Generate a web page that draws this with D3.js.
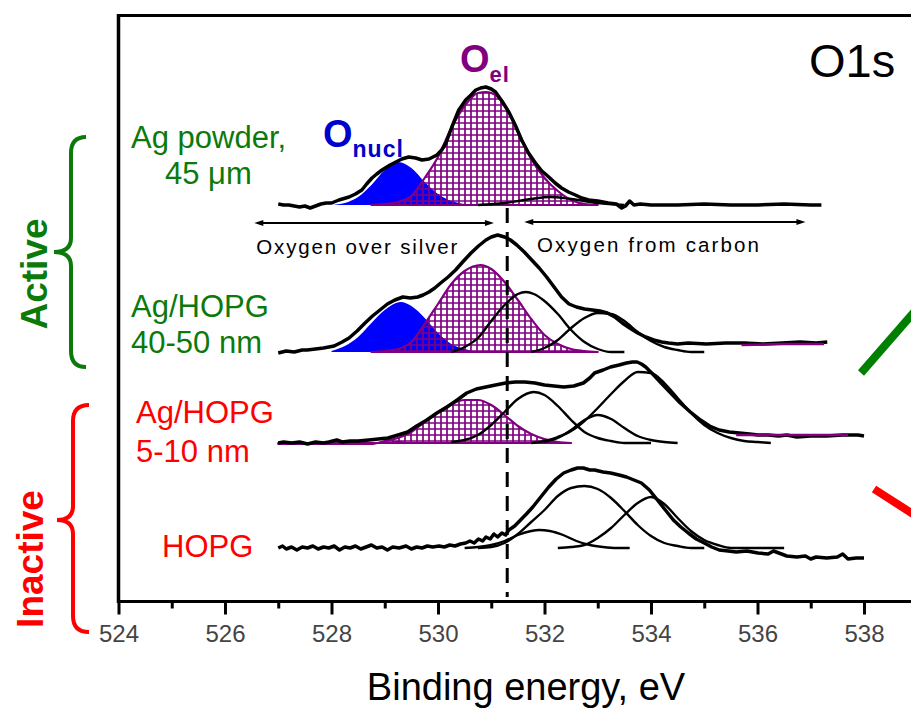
<!DOCTYPE html>
<html>
<head>
<meta charset="utf-8">
<script src="https://cdn.jsdelivr.net/npm/d3@7"></script>
<style>
  body { margin: 0; background: #fff; }
  svg { display: block; }
  text { font-family: "Liberation Sans", Arial, sans-serif; }
</style>
</head>
<body>
<svg id="chart" width="911" height="710"></svg>
<script>
// ---- O1s XPS spectra: binding energy (eV) vs intensity (a.u., stacked) ----
const majorTicks = [524, 526, 528, 530, 532, 534, 536, 538];
const minorTicks = [525, 527, 529, 531, 533, 535, 537];
const referenceEnergy = 531.3;              // dashed separator between O species
const spectrumOffsets = [39.7, 25.0, 15.9, 5.4]; // stacking offsets (a.u.)

// Ag powder, 45 µm
const powderTotal = [[527.0,.1],[527.1,0],[527.2,0],[527.3,-.1],[527.4,-.2],[527.5,-.1],[527.6,-.3],[527.7,-.1],[527.8,.1],[527.9,.2],[528.0,.2],[528.14,.5],[528.33,.8],[528.45,1.1],[528.57,1.5],[528.66,2.1],[528.76,2.7],[528.85,3.1],[528.95,3.5],[529.1,4.0],[529.21,4.3],[529.32,4.6],[529.45,4.8],[529.58,4.7],[529.7,4.5],[529.83,4.6],[529.98,5.0],[530.07,5.5],[530.15,6.2],[530.26,7.8],[530.39,9.5],[530.52,10.5],[530.62,11.0],[530.71,11.5],[530.8,11.7],[530.9,11.8],[531.0,11.6],[531.08,11.3],[531.2,10.4],[531.33,9.3],[531.45,8.0],[531.57,6.5],[531.7,5.2],[531.83,4.2],[531.95,3.4],[532.08,2.8],[532.2,2.2],[532.32,1.7],[532.45,1.3],[532.58,1.0],[532.7,.7],[532.83,.5],[533.0,.4],[533.2,.2],[533.35,.1],[533.45,-.3],[533.52,-.1],[533.6,.4],[533.68,0],[533.8,.1],[534.0,0],[534.5,0],[535.0,.1],[535.5,0],[536.0,0],[536.5,.1],[537.0,0],[537.2,0]];
const powderNucl = [[528.0,0],[528.25,.2],[528.5,.8],[528.75,2.0],[529.0,3.5],[529.25,4.3],[529.5,3.7],[529.75,2.3],[530.0,1.1],[530.25,.4],[530.5,.1],[530.75,0]];
const powderEl = [[528.75,0],[529.0,.1],[529.25,.3],[529.5,.9],[529.75,2.7],[530.0,4.8],[530.25,7.7],[530.5,9.9],[530.75,11.2],[530.9,11.3],[531.0,11.2],[531.25,10.0],[531.5,7.4],[531.75,4.6],[532.0,2.7],[532.25,1.4],[532.5,.5],[532.75,.1],[533.0,0]];
const powderC1 = [[530.75,0],[531.25,.2],[531.75,.6],[532.1,.8],[532.5,.6],[533.0,.2],[533.5,0]];

// Ag/HOPG, 40-50 nm
const thickTotal = [[527.0,-.1],[527.15,.1],[527.3,0],[527.45,.2],[527.54,.2],[527.7,.3],[527.85,.4],[528.05,.6],[528.2,1.0],[528.33,1.4],[528.48,2.1],[528.63,2.9],[528.77,3.6],[528.91,4.2],[529.05,4.8],[529.19,5.2],[529.34,5.5],[529.48,5.4],[529.62,5.5],[529.72,5.7],[529.83,6.0],[529.94,6.4],[530.05,6.9],[530.19,7.5],[530.33,8.2],[530.48,9.1],[530.62,9.9],[530.76,10.6],[530.9,11.2],[531.0,11.5],[531.12,11.7],[531.25,11.5],[531.36,11.2],[531.48,10.7],[531.62,10.0],[531.76,9.2],[531.9,8.4],[532.04,7.5],[532.18,6.5],[532.32,5.5],[532.46,4.8],[532.6,4.5],[532.75,4.3],[532.9,4.2],[533.04,4.1],[533.18,3.9],[533.32,3.5],[533.46,2.9],[533.6,2.4],[533.75,1.9],[533.9,1.5],[534.05,1.2],[534.2,1.0],[534.33,.9],[534.5,.8],[534.7,.9],[535.04,.8],[535.4,.9],[535.75,.9],[536.1,.8],[536.46,.9],[536.8,1.0],[537.1,.9],[537.31,1.0]];
const thickNucl = [[528.0,.1],[528.25,.6],[528.5,1.5],[528.75,2.9],[529.0,4.2],[529.3,5.0],[529.5,4.6],[529.75,3.4],[530.0,1.9],[530.25,.8],[530.5,.3],[530.75,0]];
const thickEl = [[528.75,0],[529.0,.1],[529.25,.3],[529.5,1.0],[529.75,2.8],[530.0,4.8],[530.25,6.8],[530.5,8.1],[530.8,8.7],[531.0,8.3],[531.25,7.0],[531.5,5.2],[531.75,3.3],[532.0,1.7],[532.25,.8],[532.5,.3],[532.75,.1],[533.0,0]];
const thickElTail = [[535.7,.7],[536.5,.8],[537.25,.8]];
const thickC1 = [[530.25,0],[530.5,.5],[530.75,1.4],[531.0,3.1],[531.25,4.7],[531.5,5.8],[531.65,6.0],[531.8,5.8],[532.0,5.1],[532.25,3.8],[532.5,2.2],[532.75,1.0],[533.0,.3],[533.25,0],[533.5,0]];
const thickC2 = [[531.75,0],[532.0,.4],[532.25,1.2],[532.5,2.4],[532.75,3.4],[533.0,3.9],[533.25,3.8],[533.5,3.1],[533.75,2.0],[534.0,1.1],[534.25,.5],[534.5,.2],[534.75,0],[535.0,0]];

// Ag/HOPG, 5-10 nm
const thinTotal = [[527.0,0],[527.1,.1],[527.25,0],[527.4,.1],[527.55,-.1],[527.7,.1],[527.85,0],[527.95,.1],[528.1,.3],[528.2,.1],[528.35,.2],[528.5,.2],[528.7,.3],[528.88,.4],[529.06,.5],[529.25,.8],[529.43,1.1],[529.6,1.7],[529.79,2.3],[529.98,3.0],[530.17,3.6],[530.36,4.3],[530.54,5.0],[530.72,5.4],[530.9,5.6],[531.08,5.8],[531.27,6.0],[531.45,6.1],[531.63,6.1],[531.82,6.0],[532.0,5.8],[532.18,5.7],[532.36,5.6],[532.55,5.7],[532.73,6.0],[532.85,6.5],[532.94,7.0],[533.1,7.3],[533.24,7.6],[533.4,7.8],[533.54,8.0],[533.65,8.1],[533.74,8.1],[533.82,7.9],[533.9,7.6],[534.05,6.8],[534.19,6.0],[534.37,5.0],[534.55,4.0],[534.74,3.1],[534.93,2.3],[535.1,1.7],[535.28,1.3],[535.47,1.1],[535.66,1.0],[535.85,.9],[536.01,.8],[536.2,.8],[536.4,.7],[536.55,.8],[536.74,.6],[537.0,.7],[537.3,.7],[537.6,.8],[537.89,.8],[538.0,.7]];
const thinNucl = [[528.9,0],[529.1,.1],[529.25,.2],[529.4,.1],[529.6,0]];
const thinEl = [[527.0,-.1],[528.75,-.1],[529.0,.2],[529.25,.5],[529.5,1.1],[529.75,2.1],[530.0,3.1],[530.25,3.9],[530.5,4.3],[530.75,4.3],[531.0,3.8],[531.25,2.8],[531.5,1.7],[531.75,.9],[532.0,.4],[532.25,.1],[532.5,0]];
const thinElTail = [[535.6,.8],[536.5,.8],[537.7,.8]];
const thinC1 = [[530.25,.1],[530.5,.3],[530.75,.8],[531.0,1.8],[531.25,3.1],[531.5,4.4],[531.8,5.1],[532.0,4.8],[532.25,3.7],[532.5,2.3],[532.75,1.1],[533.0,.5],[533.25,.2],[533.5,0],[534.0,0]];
const thinC2 = [[532.0,.1],[532.25,.5],[532.5,1.3],[532.75,2.3],[533.0,2.8],[533.25,2.4],[533.5,1.5],[533.75,.7],[534.0,.3],[534.25,.1],[534.5,0]];
const thinC3 = [[531.75,0],[532.0,.2],[532.25,.6],[532.5,1.2],[532.75,2.2],[533.0,3.5],[533.25,4.9],[533.5,6.2],[533.75,7.1],[534.0,7.0],[534.25,6.0],[534.5,4.5],[534.75,3.0],[535.0,1.8],[535.25,1.0],[535.5,.5],[535.75,.2],[536.0,.1],[536.25,0]];

// HOPG
const hopgTotal = [[527.0,0],[527.08,.2],[527.15,-.1],[527.25,.1],[527.35,-.2],[527.45,.1],[527.55,0],[527.65,.2],[527.75,-.1],[527.85,.1],[527.95,0],[528.05,.2],[528.15,-.2],[528.25,.1],[528.35,0],[528.45,.2],[528.55,-.1],[528.65,.1],[528.75,.3],[528.85,0],[528.95,.1],[529.05,-.2],[529.15,.1],[529.27,0],[529.4,.2],[529.5,-.1],[529.6,.1],[529.7,0],[529.8,.2],[529.9,.1],[530.02,.2],[530.12,.1],[530.22,.3],[530.32,.2],[530.42,.4],[530.52,.5],[530.6,.7],[530.68,.5],[530.76,.9],[530.84,.7],[530.9,1.1],[530.98,.9],[531.05,1.4],[531.12,1.1],[531.2,1.5],[531.27,1.3],[531.33,1.8],[531.44,2.2],[531.55,2.8],[531.66,3.4],[531.78,4.1],[531.93,5.1],[532.08,6.1],[532.22,6.9],[532.36,7.5],[532.5,7.8],[532.62,8.0],[532.73,8.0],[532.85,7.8],[532.94,7.8],[533.1,7.6],[533.24,7.5],[533.4,7.3],[533.54,7.1],[533.68,6.8],[533.82,6.5],[533.97,5.8],[534.12,4.8],[534.27,3.8],[534.42,2.8],[534.56,2.1],[534.7,1.5],[534.85,.9],[535.0,.5],[535.14,.1],[535.28,-.2],[535.45,-.3],[535.6,-.4],[535.8,-.3],[536.01,-.5],[536.2,-.6],[536.3,-.3],[536.4,-.5],[536.55,-.8],[536.74,-.9],[536.9,-.8],[537.0,-1.1],[537.1,-.9],[537.3,-1.0],[537.5,-.9],[537.6,-.6],[537.7,-1.1],[537.85,-1.0],[538.0,-1.0]];
const hopgC1 = [[530.5,0],[530.75,.1],[531.0,.3],[531.25,.7],[531.5,1.3],[531.75,1.7],[531.9,1.8],[532.1,1.7],[532.35,1.3],[532.6,.7],[532.85,.3],[533.1,.1],[533.35,0],[533.6,0]];
const hopgC2 = [[530.75,0],[531.0,.1],[531.25,.5],[531.5,1.4],[531.75,2.6],[532.0,3.8],[532.25,5.2],[532.5,6.0],[532.75,6.2],[533.0,5.9],[533.25,5.0],[533.5,3.7],[533.75,2.3],[534.0,1.2],[534.25,.5],[534.5,.2],[534.75,0],[535.0,0]];
const hopgC3 = [[532.25,0],[532.5,.1],[532.75,.3],[533.0,1.0],[533.25,2.0],[533.5,3.3],[533.75,4.5],[534.0,5.1],[534.25,4.4],[534.5,3.0],[534.75,1.7],[535.0,.8],[535.25,.3],[535.5,0],[536.5,0]];

// region arrows (start eV, end eV, height a.u.)
const silverArrow = [526.55, 531.05, 37.9];
const carbonArrow = [531.62, 536.9, 38.0];

// ---------------------------------------------------------------------------
const svg = d3.select("#chart");
const x = d3.scaleLinear().domain([524, 538]).range([118.5, 864]);
const y = d3.scaleLinear().domain([0, 58.7]).range([602, 15]);

const GREEN = "#0b7a0b", RED = "#ff0000", PURPLE = "#800080", BLUE = "#0000ff";

// cross-hatch used for the O_el component
const defs = svg.append("defs");
const pat = defs.append("pattern").attr("id", "hatch")
  .attr("patternUnits", "userSpaceOnUse").attr("width", 6).attr("height", 6);
pat.append("path").attr("d", "M3,0V6M0,3H6")
  .attr("stroke", PURPLE).attr("stroke-width", 1.7).attr("fill", "none");

const lineAt = (off, curve) => d3.line().x(d => x(d[0])).y(d => y(off + d[1])).curve(curve);
const areaAt = off => d3.area().x(d => x(d[0])).y0(y(off)).y1(d => y(off + d[1])).curve(d3.curveMonotoneX);

const spectra = [
  { total: powderTotal, nucl: powderNucl, el: powderEl, comps: [powderC1] },
  { total: thickTotal, nucl: thickNucl, el: thickEl, elTail: thickElTail, comps: [thickC1, thickC2] },
  { total: thinTotal, nucl: thinNucl, el: thinEl, elTail: thinElTail, comps: [thinC1, thinC2, thinC3] },
  { total: hopgTotal, comps: [hopgC1, hopgC2, hopgC3] }
];

const plot = svg.append("g");
spectra.forEach((s, i) => {
  const off = spectrumOffsets[i];
  const g = plot.append("g");
  if (s.nucl) g.append("path").datum(s.nucl).attr("d", areaAt(off)).attr("fill", BLUE);
  if (s.el) g.append("path").datum(s.el).attr("d", areaAt(off))
    .attr("fill", "url(#hatch)").attr("stroke", PURPLE).attr("stroke-width", 2.2).attr("stroke-linejoin", "round");
  s.comps.forEach(c => g.append("path").datum(c).attr("d", lineAt(off, d3.curveMonotoneX)(c))
    .attr("fill", "none").attr("stroke", "#000").attr("stroke-width", 2.4));
  g.append("path").datum(s.total).attr("d", lineAt(off, d3.curveLinear))
    .attr("fill", "none").attr("stroke", "#000").attr("stroke-width", 3.5).attr("stroke-linejoin", "round");
  if (s.elTail) g.append("path").datum(s.elTail).attr("d", lineAt(off, d3.curveLinear))
    .attr("fill", "none").attr("stroke", PURPLE).attr("stroke-width", 2.5);
});

// dashed reference line
plot.append("line")
  .attr("x1", x(referenceEnergy)).attr("x2", x(referenceEnergy))
  .attr("y1", y(spectrumOffsets[0] - 0.3)).attr("y2", y(0.5))
  .attr("stroke", "#000").attr("stroke-width", 3).attr("stroke-dasharray", "15,9");

// arrows
const arrowHead = (xTip, yy, dir) => {
  const l = 9, h = 3;
  return `M${xTip},${yy}L${xTip - dir * l},${yy - h}L${xTip - dir * l},${yy + h}Z`;
};
[silverArrow, carbonArrow].forEach(a => {
  const x0 = x(a[0]), x1 = x(a[1]), yy = y(a[2]);
  plot.append("line").attr("x1", x0 + 4).attr("x2", x1 - 4).attr("y1", yy).attr("y2", yy)
    .attr("stroke", "#000").attr("stroke-width", 2.2);
  plot.append("path").attr("d", arrowHead(x0, yy, -1)).attr("fill", "#000");
  plot.append("path").attr("d", arrowHead(x1, yy, 1)).attr("fill", "#000");
});
plot.append("text").attr("x", x(silverArrow[0]) + 2).attr("y", 254)
  .attr("font-size", 20.5).attr("textLength", 201).attr("lengthAdjust", "spacing")
  .text("Oxygen over silver");
plot.append("text").attr("x", 537).attr("y", 252)
  .attr("font-size", 20.5).attr("textLength", 222).attr("lengthAdjust", "spacing")
  .text("Oxygen from carbon");

// frame and axis
svg.append("line").attr("x1", x(524)).attr("x2", x(524)).attr("y1", 14).attr("y2", 603)
  .attr("stroke", "#000").attr("stroke-width", 3.5);
svg.append("line").attr("x1", x(524) - 1.5).attr("x2", 911).attr("y1", 15.5).attr("y2", 15.5)
  .attr("stroke", "#000").attr("stroke-width", 3.2);
svg.append("line").attr("x1", x(524) - 1.5).attr("x2", 911).attr("y1", 601.5).attr("y2", 601.5)
  .attr("stroke", "#000").attr("stroke-width", 3.2);

const axisMajor = d3.axisBottom(x).tickValues(majorTicks).tickSize(13).tickPadding(10)
  .tickSizeOuter(0).tickFormat(d3.format("d"));
const axisMinor = d3.axisBottom(x).tickValues(minorTicks).tickSize(7).tickFormat("").tickSizeOuter(0);
const gMaj = svg.append("g").attr("transform", "translate(0,601.5)").call(axisMajor);
const gMin = svg.append("g").attr("transform", "translate(0,601.5)").call(axisMinor);
[gMaj, gMin].forEach(g => {
  g.select(".domain").remove();
  g.selectAll(".tick line").attr("stroke", "#000").attr("stroke-width", 3);
});
gMaj.selectAll(".tick text").attr("font-family", "'DejaVu Sans', sans-serif")
  .attr("font-size", 24).attr("fill", "#444");

svg.append("text").attr("x", 526).attr("y", 700).attr("text-anchor", "middle")
  .attr("font-size", 38).text("Binding energy, eV");

svg.append("text").attr("x", 809).attr("y", 77).attr("font-size", 47).text("O1s");

// component labels
const nucl = svg.append("text").attr("x", 323).attr("y", 147).attr("fill", "#0000cc").attr("font-weight", "bold");
nucl.append("tspan").attr("font-size", 38).text("O");
nucl.append("tspan").attr("font-size", 23).attr("dy", 10).attr("letter-spacing", 1).text("nucl");
const el = svg.append("text").attr("x", 460).attr("y", 72).attr("fill", PURPLE).attr("font-weight", "bold");
el.append("tspan").attr("font-size", 38).text("O");
el.append("tspan").attr("font-size", 22).attr("dy", 10).attr("letter-spacing", 1).text("el");

// sample labels
const sampleLabels = [
  { t: "Ag powder,", x: 131, y: 148, c: GREEN },
  { t: "45 \u03bcm", x: 165, y: 184, c: GREEN },
  { t: "Ag/HOPG", x: 131, y: 317, c: GREEN },
  { t: "40-50 nm", x: 131, y: 353, c: GREEN },
  { t: "Ag/HOPG", x: 136, y: 423, c: RED },
  { t: "5-10 nm", x: 136, y: 462, c: RED },
  { t: "HOPG", x: 162, y: 557, c: RED }
];
sampleLabels.forEach(l => svg.append("text").attr("x", l.x).attr("y", l.y)
  .attr("font-size", 31).attr("fill", l.c).text(l.t));

// activity groups with braces
svg.append("text").attr("transform", "translate(47,274) rotate(-90)").attr("text-anchor", "middle")
  .attr("font-size", 37).attr("font-weight", "bold").attr("fill", GREEN).text("Active");
svg.append("text").attr("transform", "translate(43,559) rotate(-90)").attr("text-anchor", "middle")
  .attr("font-size", 37).attr("font-weight", "bold").attr("fill", RED).text("Inactive");
svg.append("path").attr("d", "M86,137Q71,137 71,153L71,238Q71,252 54,252Q71,252 71,266L71,351Q71,367 86,367")
  .attr("fill", "none").attr("stroke", GREEN).attr("stroke-width", 4);
svg.append("path").attr("d", "M89,405Q73,405 73,421L73,506Q73,520 57,520Q73,520 73,534L73,616Q73,632 89,632")
  .attr("fill", "none").attr("stroke", RED).attr("stroke-width", 4);

// pointers leaving the panel
svg.append("line").attr("x1", 861).attr("y1", 373).attr("x2", 935).attr("y2", 288)
  .attr("stroke", "#008000").attr("stroke-width", 8);
svg.append("line").attr("x1", 874).attr("y1", 489).attr("x2", 935).attr("y2", 528)
  .attr("stroke", RED).attr("stroke-width", 8);
</script>
</body>
</html>
